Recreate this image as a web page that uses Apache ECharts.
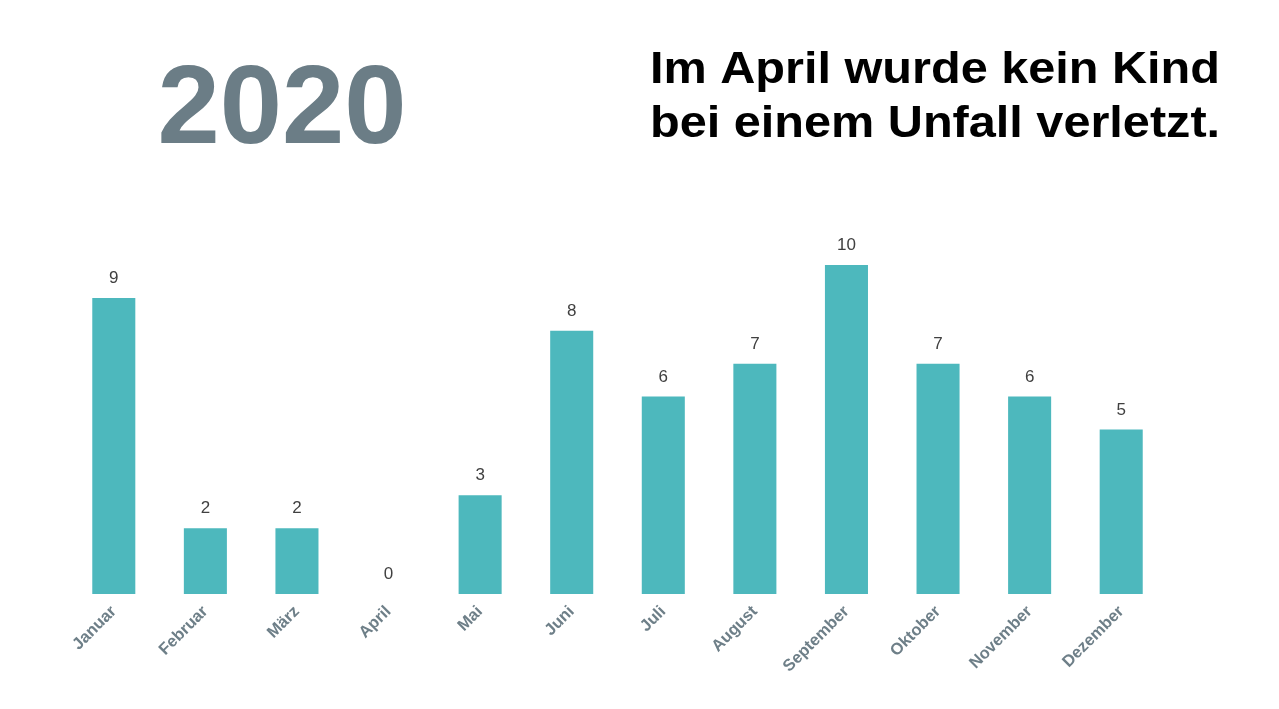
<!DOCTYPE html>
<html>
<head>
<meta charset="utf-8">
<script src="https://cdn.jsdelivr.net/npm/echarts@6/dist/echarts.min.js"></script>
<style>
html,body{margin:0;padding:0;background:#fff;}
#chart{width:1279px;height:709px;}
</style>
</head>
<body>
<div id="chart"></div>
<script>
const months = ['Januar','Februar','März','April','Mai','Juni','Juli','August','September','Oktober','November','Dezember'];
const values = [9,2,2,0,3,8,6,7,10,7,6,5];
const yearText = '2020';
const headlineLines = ['Im April wurde kein Kind', 'bei einem Unfall verletzt.'];

const FONT = '"Liberation Sans", Arial, sans-serif';
const chart = echarts.init(document.getElementById('chart'));
chart.setOption({
  backgroundColor: '#ffffff',
  animation: false,
  graphic: [
    {type:'text', x:282, y:112, style:{text:yearText, font:'bold 112px ' + FONT, fill:'#6b7d86', textAlign:'center', textVerticalAlign:'middle'}},
    {type:'text', x:650, y:71, scaleX:1.105, style:{text:headlineLines[0], font:'bold 44px ' + FONT, fill:'#000000', textAlign:'left', textVerticalAlign:'middle'}},
    {type:'text', x:650, y:125, scaleX:1.105, style:{text:headlineLines[1], font:'bold 44px ' + FONT, fill:'#000000', textAlign:'left', textVerticalAlign:'middle'}}
  ],
  grid: {left:68, right:112, top:265, bottom:115, containLabel:false},
  xAxis: {
    type:'category',
    data: months,
    axisLine:{show:false},
    axisTick:{show:false},
    axisLabel:{rotate:45, fontFamily:FONT, fontSize:16.5, fontWeight:'bold', color:'#6e7f88', margin:15, interval:0}
  },
  yAxis: {
    type:'value', min:0, max:10, show:false,
    splitLine:{show:false}
  },
  series: [{
    type:'bar',
    data: values,
    barWidth:'47%',
    itemStyle:{color:'#4db8bd'},
    label:{show:true, position:'top', distance:11, fontFamily:FONT, fontSize:17, color:'#404040'}
  }]
});
</script>
</body>
</html>
